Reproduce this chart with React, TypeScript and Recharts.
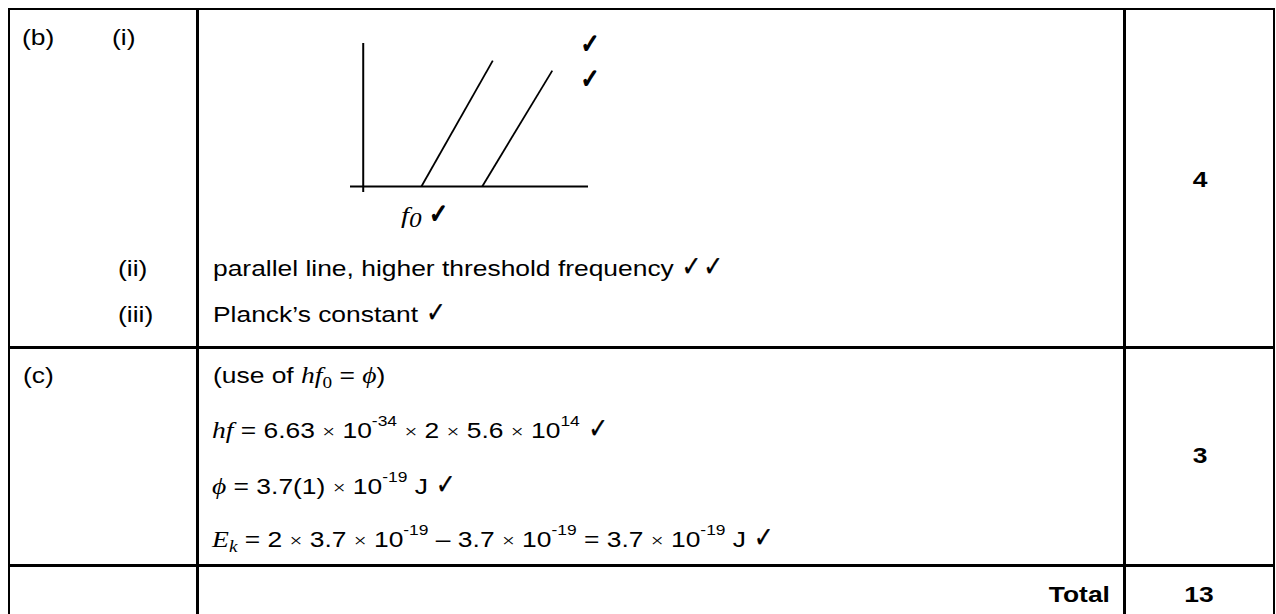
import React from 'react';
import { ComposedChart, Line, XAxis, YAxis, ReferenceLine } from 'recharts';

// ---------------- chart data (sketch graph: Ek against f) ----------------
const freqDomain: [number, number] = [-1, 17];
const energyDomain: [number, number] = [-0.5, 13];
const freqAxisExtent = [-1, 17];
const energyAxisExtent = [-0.5, 13];
const metalA = [
  { f: 4.4, ek: 0 },
  { f: 9.8, ek: 11.4 },
];
const metalB = [
  { f: 9.0, ek: 0 },
  { f: 14.3, ek: 10.5 },
];

// ---------------- table labels ----------------
const partLabels = ['(b)', '(c)'];
const subLabels = ['(i)', '(ii)', '(iii)'];
const markValues = ['4', '3'];
const totalLabel = 'Total';
const totalValue = '13';
const answerTexts = ['parallel line, higher threshold frequency', 'Planck\u2019s constant'];

const SANS = "'Liberation Sans', Arial, Helvetica, sans-serif";
const SERIF = "'Liberation Serif', 'Times New Roman', serif";
const CHECKFONT = "'DejaVu Sans', sans-serif";
const SX = 1.2;
const W = 1276;

function baseOffset(size: number, lh: number) {
  return (lh - 1.117 * size) / 2 + 0.905 * size;
}

type TxProps = {
  x: number;
  base: number;
  children: React.ReactNode;
  anchor?: 'start' | 'middle' | 'end';
  bold?: boolean;
  size?: number;
};

function Tx({ x, base, children, anchor = 'start', bold = false, size = 22 }: TxProps) {
  const lh = 26;
  const style: React.CSSProperties = {
    position: 'absolute',
    top: base - baseOffset(size, lh),
    whiteSpace: 'nowrap',
    fontSize: size,
    lineHeight: lh + 'px',
    fontWeight: bold ? 700 : 400,
    fontFamily: SANS,
    transform: `scaleX(${SX})`,
  };
  if (anchor === 'start') {
    style.left = x;
    style.transformOrigin = '0 0';
  } else if (anchor === 'end') {
    style.right = W - x;
    style.transformOrigin = '100% 0';
  } else {
    style.left = x - 100;
    style.width = 200;
    style.textAlign = 'center';
    style.transformOrigin = '50% 0';
  }
  return <div style={style}>{children}</div>;
}

const I = ({ children, size = 23 }: { children: React.ReactNode; size?: number }) => (
  <span style={{ fontFamily: SERIF, fontStyle: 'italic', fontSize: size }}>{children}</span>
);
const X = () => <span style={{ fontFamily: SERIF, fontSize: 19 }}>{'\u00d7'}</span>;
const Sup = ({ children }: { children: React.ReactNode }) => (
  <span style={{ fontSize: 14.5, position: 'relative', top: -12 }}>{children}</span>
);
const Sub = ({ children, italic = false }: { children: React.ReactNode; italic?: boolean }) => (
  <span
    style={{
      fontFamily: SERIF,
      fontStyle: italic ? 'italic' : 'normal',
      fontSize: 16,
      position: 'relative',
      top: 5,
    }}
  >
    {children}
  </span>
);
const Check = ({ size = 21, heavy = false }: { size?: number; heavy?: boolean }) => (
  <span
    style={{
      display: 'inline-block',
      fontFamily: CHECKFONT,
      fontSize: size,
      lineHeight: '20px',
      transform: 'scale(0.95, 1.35)',
      transformOrigin: '50% 85%',
      WebkitTextStroke: heavy ? '1px #000' : '0.2px #000',
    }}
  >
    {'\u2713'}
  </span>
);

function HLine({ y, x1, x2, t = 2.6 }: { y: number; x1: number; x2: number; t?: number }) {
  return (
    <div
      style={{ position: 'absolute', left: x1 - t / 2, top: y - t / 2, width: x2 - x1 + t, height: t, background: '#000' }}
    />
  );
}
function VLine({ x, y1, y2, t = 2.6 }: { x: number; y1: number; y2: number; t?: number }) {
  return (
    <div
      style={{ position: 'absolute', left: x - t / 2, top: y1 - t / 2, width: t, height: y2 - y1 + t, background: '#000' }}
    />
  );
}

function Graph() {
  return (
    <ComposedChart width={258} height={169} margin={{ top: 10, right: 10, bottom: 10, left: 10 }}>
      <XAxis type="number" dataKey="f" domain={freqDomain} hide allowDataOverflow />
      <YAxis type="number" dataKey="ek" domain={energyDomain} hide allowDataOverflow />
      <ReferenceLine
        segment={[
          { x: freqAxisExtent[0], y: 0 },
          { x: freqAxisExtent[1], y: 0 },
        ]}
        stroke="#000"
        strokeWidth={2}
        ifOverflow="visible"
      />
      <ReferenceLine
        segment={[
          { x: 0, y: energyAxisExtent[0] },
          { x: 0, y: energyAxisExtent[1] },
        ]}
        stroke="#000"
        strokeWidth={2}
        ifOverflow="visible"
      />
      <Line
        data={metalA}
        dataKey="ek"
        type="linear"
        stroke="#000"
        strokeWidth={1.8}
        dot={false}
        activeDot={false}
        isAnimationActive={false}
      />
      <Line
        data={metalB}
        dataKey="ek"
        type="linear"
        stroke="#000"
        strokeWidth={1.8}
        dot={false}
        activeDot={false}
        isAnimationActive={false}
      />
    </ComposedChart>
  );
}

export default function App() {
  const L = 9;
  const R = 1274;
  const C1 = 197.7;
  const C2 = 1124.5;
  const T = 9;
  const R1 = 347.7;
  const R2 = 565.7;
  const B = 624;
  return (
    <div
      style={{
        position: 'absolute',
        left: 0,
        top: 0,
        width: W,
        height: 614,
        overflow: 'hidden',
        background: '#fff',
        color: '#000',
        fontFamily: SANS,
      }}
    >
      {/* table grid */}
      <HLine y={T} x1={L} x2={R} />
      <HLine y={R1} x1={L} x2={R} />
      <HLine y={R2} x1={L} x2={R} />
      <HLine y={B} x1={L} x2={R} />
      <VLine x={L} y1={T} y2={B} />
      <VLine x={C1} y1={T} y2={B} />
      <VLine x={C2} y1={T} y2={B} />
      <VLine x={R} y1={T} y2={B} />

      {/* row (b) */}
      <Tx x={22} base={45.5}>{partLabels[0]}</Tx>
      <Tx x={112} base={45.5}>{subLabels[0]}</Tx>
      <div style={{ position: 'absolute', left: 340, top: 32.7 }}>
        <Graph />
      </div>
      <Tx x={580} base={54}>
        <Check size={20} heavy />
      </Tx>
      <Tx x={580} base={89}>
        <Check size={20} heavy />
      </Tx>
      <Tx x={401} base={222.5}>
        <I size={24}>f</I>
        <span style={{ fontFamily: SERIF, fontStyle: 'italic', fontSize: 21, position: 'relative', top: 4 }}>0</span>{' '}
        <Check size={20} heavy />
      </Tx>
      <Tx x={1200} base={188} anchor="middle" bold>
        {markValues[0]}
      </Tx>
      <Tx x={118} base={277}>{subLabels[1]}</Tx>
      <Tx x={213} base={277}>
        {answerTexts[0]} <Check />
        <Check />
      </Tx>
      <Tx x={118} base={322.5}>{subLabels[2]}</Tx>
      <Tx x={213} base={322.5}>
        {answerTexts[1]} <Check />
      </Tx>

      {/* row (c) */}
      <Tx x={23} base={383.5}>{partLabels[1]}</Tx>
      <Tx x={213} base={384}>
        (use of <I>hf</I>
        <Sub>0</Sub> = <I>{'\u03d5'}</I>)
      </Tx>
      <Tx x={212} base={438.5}>
        <I>hf</I> = 6.63 <X /> 10<Sup>-34</Sup> <X /> 2 <X /> 5.6 <X /> 10<Sup>14</Sup> <Check />
      </Tx>
      <Tx x={212} base={495}>
        <I>{'\u03d5'}</I> = 3.7(1) <X /> 10<Sup>-19</Sup> J <Check />
      </Tx>
      <Tx x={212} base={547.5}>
        <I>E</I>
        <Sub italic>k</Sub> = 2 <X /> 3.7 <X /> 10<Sup>-19</Sup> {'\u2013'} 3.7 <X /> 10<Sup>-19</Sup> = 3.7 <X /> 10
        <Sup>-19</Sup> J <Check />
      </Tx>
      <Tx x={1200} base={464} anchor="middle" bold>
        {markValues[1]}
      </Tx>

      {/* total row */}
      <Tx x={1110} base={603} anchor="end" bold>
        {totalLabel}
      </Tx>
      <Tx x={1199} base={603} anchor="middle" bold>
        {totalValue}
      </Tx>
    </div>
  );
}
